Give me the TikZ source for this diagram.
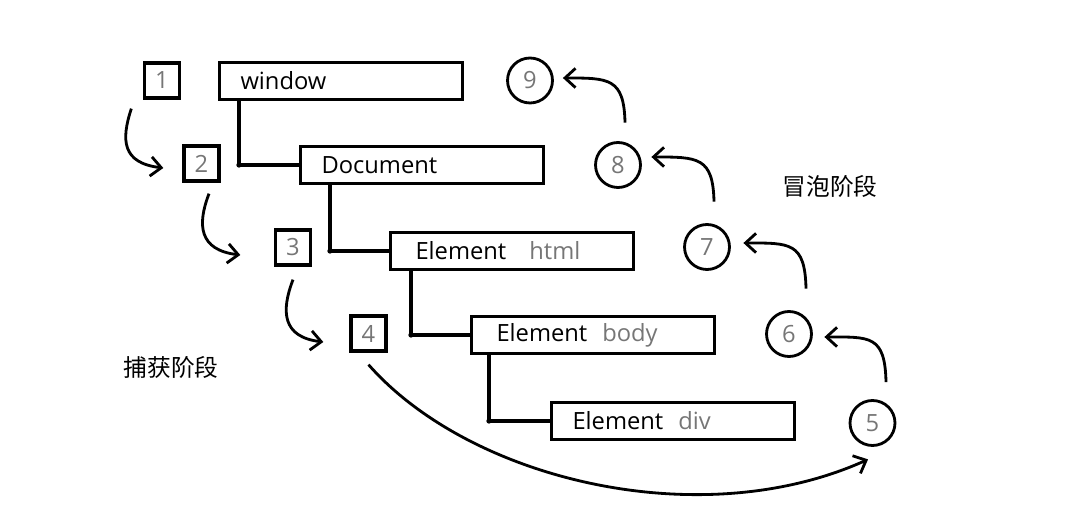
\documentclass[tikz,border=0pt]{standalone}
\usepackage{fontspec}
\setmainfont{Open Sans}
\newfontfamily\cjk{Noto Sans CJK SC}
\usetikzlibrary{arrows.meta}
\definecolor{numgray}{RGB}{118,118,118}
\begin{document}
\begin{tikzpicture}[x=0.02cm,y=-0.02cm,>={Straight Barb[length=6pt,width=11pt]},
	font=\fontsize{13.5pt}{15pt}\selectfont,
	box/.style={draw,line width=1.9pt,text width=4.02cm,inner xsep=0.42cm,minimum height=0.74cm,align=left},
	num/.style={draw,line width=1.9pt,minimum size=0.7cm,inner sep=0pt,text=numgray},
	bub/.style={draw,circle,line width=1.6pt,minimum size=0.9cm,inner sep=0pt,text=numgray},
	arr/.style={->,line width=1.6pt}]
	\useasboundingbox (0,0) rectangle (1087,519);
	% DOM tree
	\node[box] (win) at (341,81) {window};
	\node[box] (doc) at (422,165) {Document};
	\node[box] (html) at (512,251) {\hspace*{0.08cm}Element\hspace{0.46cm}\textcolor{numgray}{html}};
	\node[box] (body) at (593,335) {\hspace*{0.08cm}Element\hspace{0.3cm}\textcolor{numgray}{body}};
	\node[box] (div) at (673,421) {Element\hspace{0.3cm}\textcolor{numgray}{div}};
	\foreach \a/\b/\x in {win/doc/239,doc/html/330,html/body/411,body/div/489}{
		\draw[line width=1.9pt] (\a.south -| \x,0) |- (\b.west);
		\fill (\x,0 |- \b.west) circle (1.5pt);
	}
	% capture
	\node[num] (b1) at (162,80.5) {1};
	\node[num] (b2) at (201.5,163.5) {2};
	\node[num] (b3) at (293,247.5) {3};
	\node[num] (b4) at (368.5,333.5) {4};
	\draw[arr] ([shift={(-11.5,9)}]b1.south west) .. controls (121,140) and (122,163) .. ([shift={(-19,4.5)}]b2.west);
	\draw[arr] ([shift={(7.5,11)}]b2.south) .. controls (197,225) and (199,250) .. ([shift={(-33.5,7.5)}]b3.west);
	\draw[arr] ([shift={(0,13)}]b3.south) .. controls (281,311) and (282,337) .. ([shift={(-26,8.5)}]b4.west);
	% bubble
	\node[bub] (c5) at (872.5,423) {5};
	\node[bub] (c6) at (789,334) {6};
	\node[bub] (c7) at (707,247) {7};
	\node[bub] (c8) at (618,165) {8};
	\node[bub] (c9) at (530,80.5) {9};
	\draw[arr] ([shift={(0,12)}]b4.south) .. controls (470,480) and (700,535) .. ([shift={(-4.5,12.5)}]c5.south);
	\draw[arr] ([shift={(13.5,-17)}]c5.north) .. controls (885,335) and (870,337) .. ([shift={(11.5,3)}]c6.east);
	\draw[arr] ([shift={(17,-21.5)}]c6.north) .. controls (805,242) and (790,243) .. ([shift={(12.5,-4)}]c7.east);
	\draw[arr] ([shift={(7,-21.5)}]c7.north) .. controls (713,157) and (698,157) .. ([shift={(9.5,-8)}]c8.east);
	\draw[arr] ([shift={(7,-18.5)}]c8.north) .. controls (624,78) and (609,78) .. ([shift={(9,-2.5)}]c9.east);
	\node (bubtxt) at (830,186) {\cjk 冒泡阶段};
	\node (captxt) at (171,367) {\cjk 捕获阶段};
\end{tikzpicture}
\end{document}
